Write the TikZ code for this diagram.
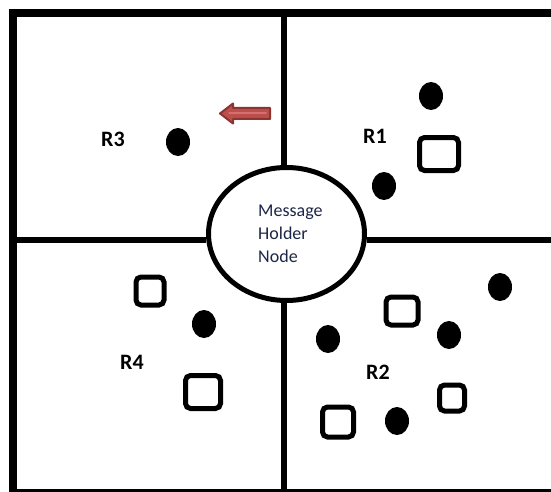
\documentclass[tikz,border=0pt]{standalone}
\usepackage{fontspec}
\setmainfont{Carlito}
\usetikzlibrary{shapes.geometric}
\definecolor{arrowfill}{RGB}{188,78,75}
\definecolor{arrowedge}{RGB}{140,52,50}
\definecolor{arrowhi}{RGB}{212,112,109}
\definecolor{navy}{RGB}{28,38,70}
\begin{document}
\begin{tikzpicture}[x=1pt,y=-1pt,
  frame/.style={line width=8pt},
  divider/.style={line width=6pt},
  holder/.style={ellipse,draw,line width=5pt,minimum width=156pt,minimum height=133pt,inner sep=0pt},
  dot/.style={ellipse,fill=black,minimum width=24pt,minimum height=28pt,inner sep=0pt},
  box/.style={draw,line width=5pt,rounded corners=5pt,inner sep=0pt},
  region/.style={font=\fontsize{22}{26}\selectfont\bfseries,inner sep=0pt},
  arrowbody/.style={fill=arrowfill,draw=arrowedge,line width=2pt,line join=round}]
\useasboundingbox (0,0) rectangle (551,492);
\clip (0,0) rectangle (551,492);
\fill[white] (0,0) rectangle (551,492);

% central node
\node[holder] (mh) at (286.5,234) {};
\node[anchor=north west, align=left, inner sep=0pt, text=navy,
      font=\fontsize{18}{23}\selectfont] (msg) at (258,205) {Message\\Holder\\Node};

% frame
\coordinate (ftr) at (551,13.5);
\coordinate (ftl) at (13,13.5);
\coordinate (fbl) at (13,492.5);
\coordinate (fbr) at (551,492.5);
\draw[frame] (ftr) -- (ftl) -- (fbl) -- (fbr);

% dividers
\coordinate (vtop) at (284,13.5);
\coordinate (vbot) at (284,492.5);
\coordinate (hl) at (13,240);
\coordinate (hr) at (551,240);
\draw[divider] (vtop) -- (vtop |- mh.north);
\draw[divider] (vbot) -- (vbot |- mh.south);
\draw[divider] (hl) -- (hl -| mh.west);
\draw[divider] (hr) -- (hr -| mh.east);

% region labels
\node[region] (r3) at (113,139) {R3};
\node[region] (r1) at (375,136) {R1};
\node[region] (r4) at (132,362) {R4};
\node[region] (r2) at (378,372) {R2};

% dots
\node[dot] (d3) at (178,142) {};
\node[dot] (d1a) at (431,96) {};
\node[dot] (d1b) at (384,186) {};
\node[dot] (d4) at (204,324) {};
\node[dot] (d2a) at (500,287) {};
\node[dot] (d2b) at (328,339) {};
\node[dot] (d2c) at (449,335) {};
\node[dot] (d2d) at (397,421) {};

% boxes
\node[box,minimum width=39pt,minimum height=33pt] (b1) at (439,154) {};
\node[box,minimum width=28pt,minimum height=28pt] (b4a) at (150,291) {};
\node[box,minimum width=35pt,minimum height=33pt] (b4b) at (203,392) {};
\node[box,minimum width=32pt,minimum height=28pt] (b2a) at (402,311) {};
\node[box,minimum width=25pt,minimum height=26pt] (b2b) at (452,398) {};
\node[box,minimum width=31pt,minimum height=30pt] (b2c) at (338,422) {};

% arrow
\path[arrowbody] (220,113.5) -- (233,103.5) -- (233,108) -- (270,108) -- (270,119) -- (233,119) -- (233,123.5) -- cycle;
\draw[arrowhi,line width=2pt,line cap=round] (229,113.5) -- (266,113.5);
\end{tikzpicture}
\end{document}
